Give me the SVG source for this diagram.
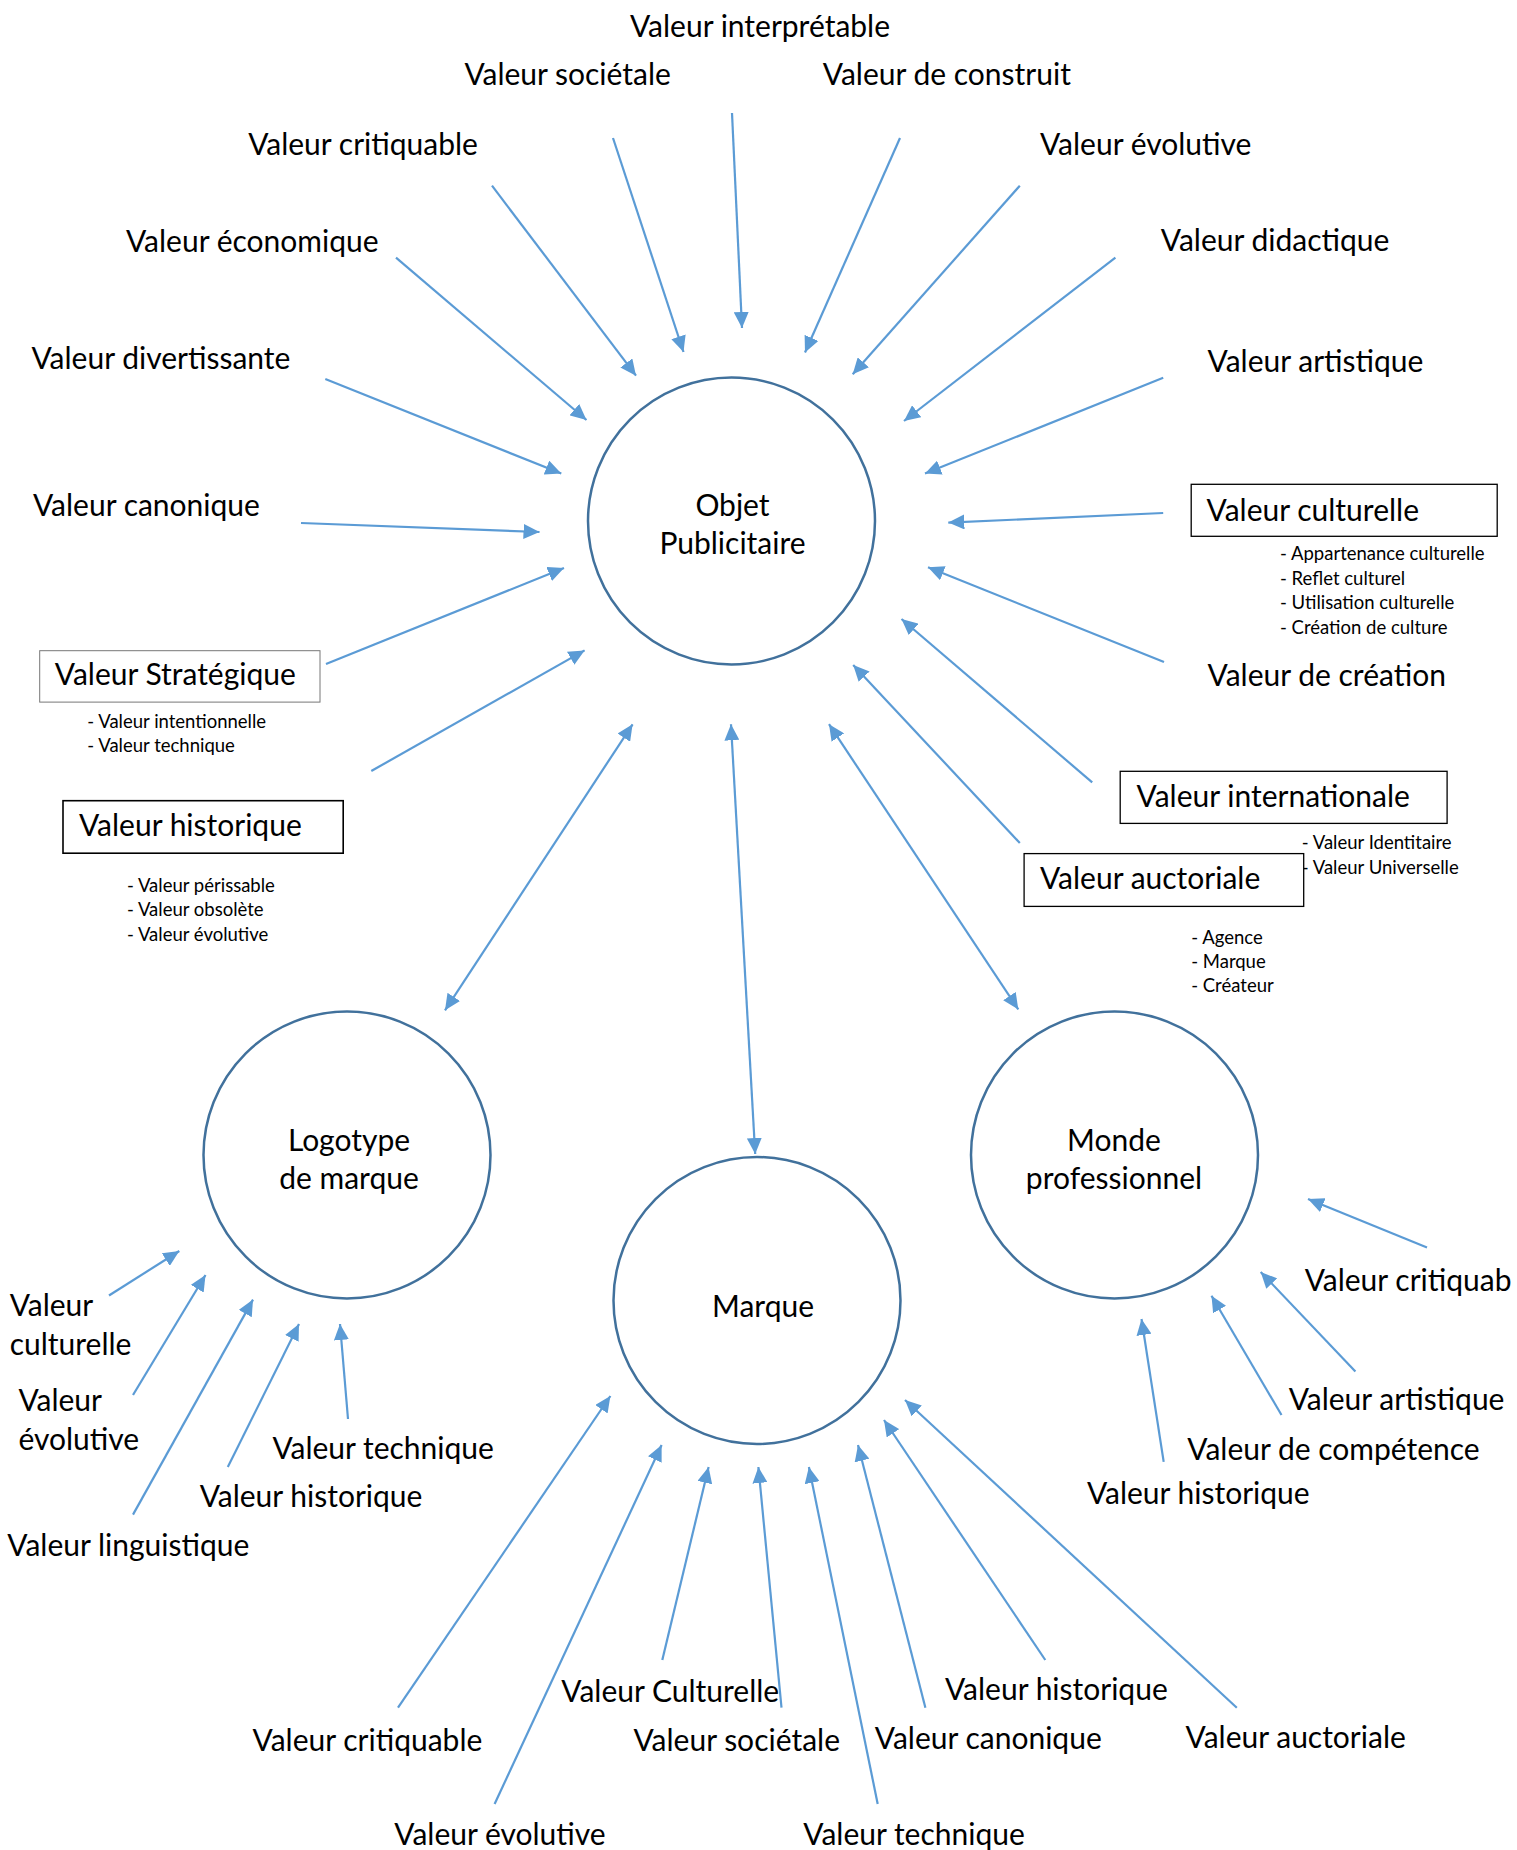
<svg xmlns="http://www.w3.org/2000/svg" width="1517" height="1850" viewBox="0 0 1517 1850">
<defs>
<style>
.lbl{font-family:Lato,"Open Sans",sans-serif;font-size:30px;fill:#000}
.sm{font-family:Lato,"Open Sans",sans-serif;font-size:18.5px;fill:#000}
.mid{text-anchor:middle}
.node{fill:#fff;stroke:#41719C;stroke-width:2.5}
.box{fill:#fff;stroke:#000;stroke-width:1.3}
.arr{stroke:#5B9BD5;stroke-width:2.2;fill:none;marker-end:url(#ah)}
.dbl{marker-start:url(#ah)}
</style>
<marker id="ah" markerUnits="userSpaceOnUse" markerWidth="17" markerHeight="15" refX="16" refY="7.5" orient="auto-start-reverse" viewBox="0 0 17 15">
<path d="M0,0 L16,7.5 L0,15 z" fill="#5B9BD5"/>
</marker>
</defs>
<rect width="1517" height="1850" fill="#fff"/>

<g id="connectors">
<line class="arr" x1="732" y1="113" x2="742" y2="328"/>
<line class="arr" x1="613" y1="138" x2="683.5" y2="352"/>
<line class="arr" x1="900" y1="138" x2="805" y2="352.5"/>
<line class="arr" x1="492" y1="185.7" x2="636" y2="375.7"/>
<line class="arr" x1="1019.8" y1="185.7" x2="852.7" y2="374.3"/>
<line class="arr" x1="396" y1="257.7" x2="586.5" y2="420"/>
<line class="arr" x1="1115.4" y1="257.7" x2="904" y2="421"/>
<line class="arr" x1="325.3" y1="379" x2="561.3" y2="473.6"/>
<line class="arr" x1="1163.2" y1="377.7" x2="925" y2="473.6"/>
<line class="arr" x1="301" y1="523" x2="539.5" y2="532"/>
<line class="arr" x1="1163.2" y1="513" x2="948.3" y2="522.6"/>
<line class="arr" x1="326" y1="664" x2="564" y2="568"/>
<line class="arr" x1="371.3" y1="771" x2="584.6" y2="650.4"/>
<line class="arr" x1="1164" y1="662" x2="928" y2="567.3"/>
<line class="arr" x1="1092.2" y1="782.4" x2="901.5" y2="619"/>
<line class="arr" x1="1019.8" y1="843" x2="853.2" y2="665"/>
<line class="arr dbl" x1="632.6" y1="724.3" x2="445" y2="1010.3"/>
<line class="arr dbl" x1="731" y1="724.3" x2="755.2" y2="1154"/>
<line class="arr dbl" x1="829" y1="724.2" x2="1018.3" y2="1009.4"/>
<line class="arr" x1="109" y1="1295.5" x2="179.3" y2="1251"/>
<line class="arr" x1="133" y1="1395" x2="205.5" y2="1275"/>
<line class="arr" x1="133" y1="1514.6" x2="253" y2="1299.6"/>
<line class="arr" x1="227.8" y1="1467" x2="299" y2="1324"/>
<line class="arr" x1="348" y1="1419" x2="340" y2="1324"/>
<line class="arr" x1="398" y1="1707.7" x2="610.4" y2="1396"/>
<line class="arr" x1="494.6" y1="1804" x2="661.6" y2="1445"/>
<line class="arr" x1="662.3" y1="1660" x2="708.6" y2="1467"/>
<line class="arr" x1="781.5" y1="1707.7" x2="758.4" y2="1467"/>
<line class="arr" x1="877.7" y1="1804" x2="808.9" y2="1467"/>
<line class="arr" x1="925.4" y1="1707.7" x2="858" y2="1445"/>
<line class="arr" x1="1045.3" y1="1660" x2="884" y2="1420"/>
<line class="arr" x1="1236.8" y1="1707.7" x2="905" y2="1400"/>
<line class="arr" x1="1427" y1="1247.5" x2="1308" y2="1199"/>
<line class="arr" x1="1355.4" y1="1371.4" x2="1260.7" y2="1272"/>
<line class="arr" x1="1281.5" y1="1415" x2="1211.5" y2="1295.7"/>
<line class="arr" x1="1163.7" y1="1461.8" x2="1141.5" y2="1319"/>
</g>

<g id="node-objet">
<circle class="node" cx="731.5" cy="521" r="143.5"/>
<text class="lbl mid" x="732.5" y="516">Objet</text>
<text class="lbl mid" x="732.5" y="554">Publicitaire</text>
</g>
<g id="node-logotype">
<circle class="node" cx="347" cy="1155" r="143.5"/>
<text class="lbl mid" x="349" y="1151">Logotype</text>
<text class="lbl mid" x="349" y="1189">de marque</text>
</g>
<g id="node-marque">
<circle class="node" cx="757" cy="1300.5" r="143.5"/>
<text class="lbl mid" x="763" y="1317">Marque</text>
</g>
<g id="node-monde">
<circle class="node" cx="1114.5" cy="1155" r="143.5"/>
<text class="lbl mid" x="1114" y="1151">Monde</text>
<text class="lbl mid" x="1114" y="1189">professionnel</text>
</g>

<g id="labels-objet" transform="translate(0,1.5)">
<text class="lbl" x="630" y="35">Valeur interprétable</text>
<text class="lbl" x="464.4" y="83">Valeur sociétale</text>
<text class="lbl" x="822.8" y="83">Valeur de construit</text>
<text class="lbl" x="248.2" y="153">Valeur critiquable</text>
<text class="lbl" x="1040" y="153">Valeur évolutive</text>
<text class="lbl" x="126" y="250.5">Valeur économique</text>
<text class="lbl" x="1160.8" y="249.5">Valeur didactique</text>
<text class="lbl" x="31.5" y="367.7">Valeur divertissante</text>
<text class="lbl" x="1207.6" y="370">Valeur artistique</text>
<text class="lbl" x="33" y="514.6">Valeur canonique</text>
<text class="lbl" x="1207.6" y="684">Valeur de création</text>
</g>

<g id="box-culturelle">
<rect class="box" x="1191.2" y="484.3" width="306" height="52"/>
<text class="lbl" x="1206.6" y="520.5">Valeur culturelle</text>
<text class="sm" x="1280" y="560">- Appartenance culturelle</text>
<text class="sm" x="1280" y="584.5">- Reflet culturel</text>
<text class="sm" x="1280" y="609">- Utilisation culturelle</text>
<text class="sm" x="1280" y="633.5">- Création de culture</text>
</g>
<g id="box-strategique">
<rect class="box" x="39.7" y="650.7" width="280.3" height="51.4" style="stroke:#777;stroke-width:1"/>
<text class="lbl" x="54.8" y="685">Valeur Stratégique</text>
<text class="sm" x="87.3" y="727.9">- Valeur intentionnelle</text>
<text class="sm" x="87.3" y="752.1">- Valeur technique</text>
</g>
<g id="box-historique">
<rect class="box" x="63" y="800.7" width="280.2" height="52.5" style="stroke-width:1.6"/>
<text class="lbl" x="79" y="835.8">Valeur historique</text>
<text class="sm" x="127" y="892.1">- Valeur périssable</text>
<text class="sm" x="127" y="916.4">- Valeur obsolète</text>
<text class="sm" x="127" y="940.7">- Valeur évolutive</text>
</g>
<g id="box-internationale">
<rect class="box" x="1120.2" y="771.3" width="326.9" height="52.1"/>
<text class="lbl" x="1136.6" y="807.3">Valeur internationale</text>
<text class="sm" x="1301.8" y="848.6">- Valeur Identitaire</text>
<text class="sm" x="1301.8" y="873.5">- Valeur Universelle</text>
</g>
<g id="box-auctoriale">
<rect class="box" x="1024.1" y="853.6" width="279.6" height="52.8"/>
<text class="lbl" x="1040" y="889.2">Valeur auctoriale</text>
<text class="sm" x="1191.2" y="943.5">- Agence</text>
<text class="sm" x="1191.2" y="968">- Marque</text>
<text class="sm" x="1191.2" y="992.1">- Créateur</text>
</g>

<g id="labels-logotype" transform="translate(0,1.5)">
<text class="lbl" x="9.7" y="1314.8">Valeur</text>
<text class="lbl" x="9.7" y="1353.7">culturelle</text>
<text class="lbl" x="18.4" y="1409.2">Valeur</text>
<text class="lbl" x="18.4" y="1448">évolutive</text>
<text class="lbl" x="7.3" y="1554.8">Valeur linguistique</text>
<text class="lbl" x="199.7" y="1505.3">Valeur historique</text>
<text class="lbl" x="272.4" y="1457.2">Valeur technique</text>
</g>

<g id="labels-monde" transform="translate(0,1.5)">
<text class="lbl" x="1304.7" y="1289.3">Valeur critiquab</text>
<text class="lbl" x="1288.7" y="1408.9">Valeur artistique</text>
<text class="lbl" x="1187.3" y="1458.2">Valeur de compétence</text>
<text class="lbl" x="1086.9" y="1502.9">Valeur historique</text>
</g>

<g id="labels-marque" transform="translate(0,1.5)">
<text class="lbl" x="561.3" y="1700">Valeur Culturelle</text>
<text class="lbl" x="945" y="1698.3">Valeur historique</text>
<text class="lbl" x="252.6" y="1749.3">Valeur critiquable</text>
<text class="lbl" x="633.5" y="1749.3">Valeur sociétale</text>
<text class="lbl" x="874.8" y="1747.7">Valeur canonique</text>
<text class="lbl" x="1185.6" y="1746">Valeur auctoriale</text>
<text class="lbl" x="394.3" y="1843.3">Valeur évolutive</text>
<text class="lbl" x="803.3" y="1843.3">Valeur technique</text>
</g>
</svg>
